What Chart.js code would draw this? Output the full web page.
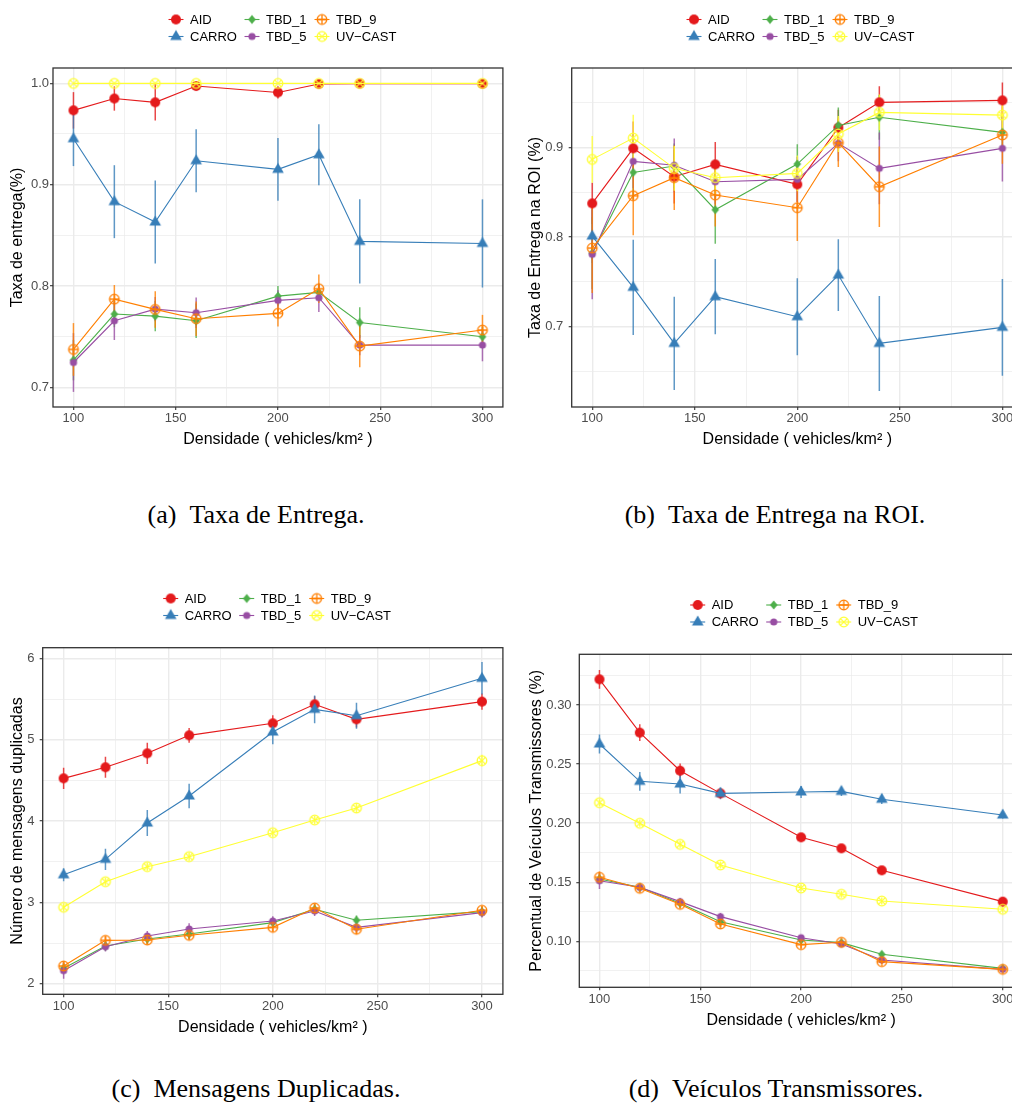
<!DOCTYPE html>
<html>
<head>
<meta charset="utf-8">
<script src="https://cdn.jsdelivr.net/npm/chart.js@4.4.1/dist/chart.umd.min.js"></script>
<style>
  html, body { margin: 0; padding: 0; background: #fff; overflow: hidden; width: 1012px; height: 1106px; }
  canvas { position: absolute; }
  .cap { position: absolute; font-family: "Liberation Serif", "Times New Roman", serif; font-size: 26px; line-height: 30px;
         color: #000; white-space: pre; transform: translateX(-50%); }
</style>
</head>
<body>
<canvas id="chartA" width="510" height="460" style="left:0;top:0"></canvas>
<canvas id="chartB" width="520" height="460" style="left:510px;top:0"></canvas>
<canvas id="chartC" width="510" height="460" style="left:0;top:580px"></canvas>
<canvas id="chartD" width="520" height="460" style="left:510px;top:580px"></canvas>

<div class="cap" style="left:256px;top:500px">(a)&#8194;Taxa de Entrega.</div>
<div class="cap" style="left:775px;top:500px">(b)&#8194;Taxa de Entrega na ROI.</div>
<div class="cap" style="left:256px;top:1074px">(c)&#8194;Mensagens Duplicadas.</div>
<div class="cap" style="left:776px;top:1074px">(d)&#8194;Veículos Transmissores.</div>

<script>
// dados
const densidade = [100, 120, 140, 160, 200, 220, 240, 300];
const xTicks = [100, 150, 200, 250, 300];
const xMinor = [125, 175, 225, 275];

const seriesNames = ['AID', 'CARRO', 'TBD_1', 'TBD_5', 'TBD_9', 'UV\u2212CAST'];
const seriesColors = ['#E41A1C', '#377EB8', '#4DAF4A', '#984EA3', '#FF7F00', '#FFFF33'];

// (a) Taxa de entrega
const entregaAID = [0.9733, 0.985, 0.9812, 0.9973, 0.991, 0.9993, 0.9997, 0.9995];
const entregaAIDErr = [0.018, 0.012, 0.018, 0.003, 0.006, 0.001, 0.0005, 0.001];
const entregaCARRO = [0.9453, 0.8832, 0.8631, 0.9236, 0.9151, 0.9295, 0.844, 0.842];
const entregaCARROErr = [0.027, 0.036, 0.041, 0.031, 0.031, 0.03, 0.0415, 0.0435];
const entregaTBD1 = [0.7269, 0.7723, 0.7703, 0.7657, 0.79, 0.7937, 0.764, 0.7499];
const entregaTBD1Err = [0.02, 0.013, 0.015, 0.017, 0.01, 0.008, 0.015, 0.01];
const entregaTBD5 = [0.7245, 0.7657, 0.7772, 0.7736, 0.7858, 0.7884, 0.7417, 0.7417];
const entregaTBD5Err = [0.029, 0.019, 0.012, 0.015, 0.01, 0.014, 0.01, 0.016];
const entregaTBD9 = [0.7374, 0.787, 0.7769, 0.7677, 0.773, 0.7973, 0.7407, 0.7565];
const entregaTBD9Err = [0.026, 0.014, 0.018, 0.017, 0.013, 0.014, 0.021, 0.015];
const entregaUV = [0.9999, 0.9999, 0.9999, 0.9999, 0.9999, 0.9999, 0.9999, 0.9999];
const entregaUVErr = [0, 0, 0, 0, 0, 0, 0, 0];
const entregaYTicks = [0.7, 0.8, 0.9, 1.0];
const entregaYMinor = [0.75, 0.85, 0.95];

// (b) Taxa de entrega na ROI
const roiAID = [0.8375, 0.8989, 0.8673, 0.881, 0.8587, 0.9219, 0.9502, 0.9524];
const roiAIDErr = [0.023, 0.03, 0.03, 0.025, 0.02, 0.02, 0.018, 0.02];
const roiCARRO = [0.8011, 0.7439, 0.6814, 0.7335, 0.7112, 0.7576, 0.6814, 0.6993];
const roiCARROErr = [0.03, 0.053, 0.052, 0.042, 0.043, 0.04, 0.053, 0.054];
const roiTBD1 = [0.782, 0.8721, 0.8792, 0.8305, 0.8814, 0.9245, 0.9335, 0.9167];
const roiTBD1Err = [0.04, 0.03, 0.025, 0.038, 0.022, 0.02, 0.025, 0.02];
const roiTBD5 = [0.7807, 0.8844, 0.88, 0.8617, 0.8643, 0.9045, 0.8766, 0.8989];
const roiTBD5Err = [0.05, 0.03, 0.03, 0.025, 0.025, 0.02, 0.04, 0.037];
const roiTBD9 = [0.7877, 0.8461, 0.8662, 0.8468, 0.8327, 0.9052, 0.8561, 0.9138];
const roiTBD9Err = [0.05, 0.044, 0.036, 0.035, 0.037, 0.027, 0.045, 0.032];
const roiUV = [0.8866, 0.9104, 0.8766, 0.8662, 0.871, 0.9149, 0.939, 0.936];
const roiUVErr = [0.026, 0.026, 0.025, 0.02, 0.02, 0.02, 0.02, 0.02];
const roiYTicks = [0.7, 0.8, 0.9];
const roiYMinor = [0.65, 0.75, 0.85, 0.95];

// (c) Mensagens duplicadas
const dupAID = [4.527, 4.663, 4.835, 5.056, 5.204, 5.438, 5.253, 5.471];
const dupAIDErr = [0.13, 0.13, 0.13, 0.09, 0.1, 0.1, 0.1, 0.1];
const dupCARRO = [3.34, 3.53, 3.977, 4.31, 5.097, 5.376, 5.298, 5.758];
const dupCARROErr = [0.08, 0.13, 0.16, 0.15, 0.15, 0.17, 0.16, 0.2];
const dupTBD1 = [2.189, 2.464, 2.55, 2.611, 2.751, 2.915, 2.78, 2.886];
const dupTBD1Err = [0.06, 0.06, 0.06, 0.06, 0.06, 0.06, 0.06, 0.06];
const dupTBD5 = [2.16, 2.455, 2.587, 2.673, 2.771, 2.894, 2.693, 2.874];
const dupTBD5Err = [0.1, 0.06, 0.06, 0.07, 0.06, 0.06, 0.06, 0.06];
const dupTBD9 = [2.217, 2.533, 2.537, 2.595, 2.693, 2.931, 2.669, 2.903];
const dupTBD9Err = [0.06, 0.05, 0.05, 0.05, 0.05, 0.05, 0.06, 0.05];
const dupUV = [2.94, 3.255, 3.44, 3.563, 3.858, 4.014, 4.162, 4.745];
const dupUVErr = [0.05, 0.05, 0.05, 0.05, 0.05, 0.05, 0.06, 0.07];
const dupYTicks = [2, 3, 4, 5, 6];
const dupYMinor = [2.5, 3.5, 4.5, 5.5];

// (d) Veiculos transmissores
const transAID = [0.3217, 0.2766, 0.2444, 0.2252, 0.188, 0.1787, 0.1601, 0.1336];
const transAIDErr = [0.008, 0.007, 0.006, 0.004, 0.002, 0.002, 0.002, 0.002];
const transCARRO = [0.267, 0.2354, 0.2331, 0.2252, 0.2264, 0.2269, 0.2202, 0.2069];
const transCARROErr = [0.008, 0.008, 0.008, 0.005, 0.005, 0.004, 0.004, 0.003];
const transTBD1 = [0.1528, 0.1457, 0.1322, 0.1166, 0.1011, 0.0989, 0.089, 0.0771];
const transTBD1Err = [0.004, 0.003, 0.003, 0.003, 0.002, 0.002, 0.002, 0.002];
const transTBD5 = [0.1513, 0.1457, 0.1336, 0.1209, 0.1031, 0.0977, 0.0842, 0.0763];
const transTBD5Err = [0.007, 0.003, 0.003, 0.003, 0.002, 0.002, 0.002, 0.002];
const transTBD9 = [0.1542, 0.1449, 0.1313, 0.1147, 0.0972, 0.0992, 0.0828, 0.0763];
const transTBD9Err = [0.005, 0.003, 0.003, 0.003, 0.003, 0.002, 0.002, 0.002];
const transUV = [0.2173, 0.1999, 0.1821, 0.1646, 0.1451, 0.1398, 0.1341, 0.1271];
const transUVErr = [0.003, 0.003, 0.003, 0.003, 0.003, 0.003, 0.003, 0.003];
const transYTicks = [0.10, 0.15, 0.20, 0.25, 0.30];
const transYMinor = [0.075, 0.125, 0.175, 0.225, 0.275, 0.325];

const FONT = '"Liberation Sans", Arial, sans-serif';
Chart.defaults.font.family = FONT;

// marcadores estilo ggplot
function makeMarker(kind, color) {
  const c = document.createElement('canvas');
  c.width = 16; c.height = 16;
  const g = c.getContext('2d');
  const m = 8;
  g.fillStyle = color;
  g.strokeStyle = color;
  g.lineWidth = 1.3;
  if (kind === 'circle') {
    g.beginPath(); g.arc(m, m, 5, 0, Math.PI * 2); g.fill();
  } else if (kind === 'small') {
    g.beginPath(); g.arc(m, m, 3.6, 0, Math.PI * 2); g.fill();
  } else if (kind === 'triangle') {
    g.beginPath(); g.moveTo(m, m - 6.6); g.lineTo(m + 5.8, m + 3.4); g.lineTo(m - 5.8, m + 3.4); g.closePath(); g.fill();
  } else if (kind === 'diamond') {
    g.beginPath(); g.moveTo(m, m - 4.4); g.lineTo(m + 3.8, m); g.lineTo(m, m + 4.4); g.lineTo(m - 3.8, m); g.closePath(); g.fill();
  } else if (kind === 'plus') {
    g.beginPath(); g.arc(m, m, 4.8, 0, Math.PI * 2); g.stroke();
    g.beginPath(); g.moveTo(m - 4.8, m); g.lineTo(m + 4.8, m); g.moveTo(m, m - 4.8); g.lineTo(m, m + 4.8); g.stroke();
  } else if (kind === 'cross') {
    const d = 4.8 / Math.SQRT2;
    g.beginPath(); g.arc(m, m, 4.8, 0, Math.PI * 2); g.stroke();
    g.beginPath(); g.moveTo(m - d, m - d); g.lineTo(m + d, m + d); g.moveTo(m + d, m - d); g.lineTo(m - d, m + d); g.stroke();
  }
  return c;
}
const markerKinds = ['circle', 'triangle', 'diamond', 'small', 'plus', 'cross'];
const markers = markerKinds.map((k, i) => makeMarker(k, seriesColors[i]));

const errorBars = {
  id: 'errorBars',
  beforeDatasetsDraw(chart) {
    const { ctx, chartArea, scales: { x, y } } = chart;
    ctx.save();
    ctx.beginPath();
    ctx.rect(chartArea.left, chartArea.top, chartArea.right - chartArea.left, chartArea.bottom - chartArea.top);
    ctx.clip();
    ctx.lineWidth = 1.5;
    ctx.globalAlpha = 0.8;
    chart.data.datasets.forEach(ds => {
      ctx.strokeStyle = ds.borderColor;
      ds.data.forEach((p, j) => {
        const e = ds.err[j];
        if (!e) return;
        const px = x.getPixelForValue(p.x);
        ctx.beginPath();
        ctx.moveTo(px, y.getPixelForValue(p.y - e));
        ctx.lineTo(px, y.getPixelForValue(p.y + e));
        ctx.stroke();
      });
    });
    ctx.restore();
  }
};

const panelFrame = {
  id: 'panelFrame',
  afterDraw(chart) {
    const { ctx, chartArea: a } = chart;
    ctx.save();
    ctx.strokeStyle = '#333333';
    ctx.lineWidth = 1.3;
    ctx.strokeRect(a.left, a.top, a.right - a.left, a.bottom - a.top);
    ctx.restore();
  }
};

// legenda em 3 colunas x 2 linhas (preenchida por coluna)
const ggLegend = {
  id: 'ggLegend',
  afterDraw(chart, args, opts) {
    const ctx = chart.ctx;
    const colOffsets = [0, 76, 146];
    ctx.save();
    ctx.font = '13px ' + FONT;
    ctx.textBaseline = 'middle';
    seriesNames.forEach((name, i) => {
      const col = Math.floor(i / 2), row = i % 2;
      const kx = opts.x + colOffsets[col];
      const ky = opts.y + row * 17;
      ctx.strokeStyle = seriesColors[i];
      ctx.lineWidth = 1.1;
      ctx.beginPath(); ctx.moveTo(kx - 7.5, ky); ctx.lineTo(kx + 7.5, ky); ctx.stroke();
      ctx.drawImage(markers[i], kx - 8, ky - 8);
      ctx.fillStyle = '#000';
      ctx.fillText(name, kx + 14, ky + 0.5);
    });
    ctx.restore();
  }
};

function tickSet(major, minor) {
  return major.concat(minor).sort((a, b) => a - b);
}

function buildChart(id, cfg) {
  const datasets = seriesNames.map((name, i) => ({
    label: name,
    data: densidade.map((d, j) => ({ x: d, y: cfg.values[i][j] })),
    err: cfg.errors[i],
    borderColor: seriesColors[i],
    backgroundColor: seriesColors[i],
    borderWidth: 1.1,
    pointStyle: markers[i],
    pointRadius: 6,
    pointHoverRadius: 6,
    tension: 0,
    order: seriesNames.length - i
  }));

  const allX = tickSet(xTicks, xMinor);
  const allY = tickSet(cfg.yTicks, cfg.yMinor);
  const gridWidth = major => (c => (c.tick && major.includes(c.tick.value)) ? 1.4 : 0.7);
  const tickCol = major => (c => (c.tick && major.includes(c.tick.value)) ? '#333333' : 'rgba(0,0,0,0)');

  new Chart(document.getElementById(id), {
    type: 'line',
    data: { datasets },
    plugins: [errorBars, panelFrame, ggLegend],
    options: {
      responsive: false,
      animation: false,
      layout: { padding: { top: cfg.top, right: cfg.right, left: 0, bottom: 0 } },
      plugins: {
        legend: { display: false },
        tooltip: { enabled: false },
        ggLegend: { x: cfg.legX, y: cfg.legY }
      },
      scales: {
        x: {
          type: 'linear', min: 90, max: 310,
          afterBuildTicks: s => { s.ticks = allX.map(v => ({ value: v })); },
          afterFit: s => { s.height = cfg.xh; },
          ticks: {
            autoSkip: false, maxRotation: 0, padding: 1,
            color: '#4D4D4D', font: { size: 13 },
            callback: v => xTicks.includes(v) ? String(v) : ''
          },
          grid: { color: '#EBEBEB', lineWidth: gridWidth(xTicks), tickLength: 3, tickColor: tickCol(xTicks), tickWidth: 1.1 },
          border: { display: false },
          title: {
            display: true, text: 'Densidade ( vehicles/km\u00B2 )', color: '#000',
            font: { size: 16 }, padding: { top: 0, bottom: cfg.xtb }
          }
        },
        y: {
          min: cfg.yMin, max: cfg.yMax,
          afterBuildTicks: s => { s.ticks = allY.map(v => ({ value: v })); },
          afterFit: s => { s.width = cfg.yw; },
          ticks: {
            autoSkip: false, padding: cfg.ytp,
            color: '#4D4D4D', font: { size: 13 },
            callback: v => cfg.yTicks.includes(v) ? v.toFixed(cfg.dec) : ''
          },
          grid: { color: '#EBEBEB', lineWidth: gridWidth(cfg.yTicks), tickLength: 3, tickColor: tickCol(cfg.yTicks), tickWidth: 1.1 },
          border: { display: false },
          title: {
            display: true, text: cfg.yTitle, color: '#000',
            font: { size: 16 }, padding: { top: cfg.ytt, bottom: 0 }
          }
        }
      }
    }
  });
}

buildChart('chartA', {
  values: [entregaAID, entregaCARRO, entregaTBD1, entregaTBD5, entregaTBD9, entregaUV],
  errors: [entregaAIDErr, entregaCARROErr, entregaTBD1Err, entregaTBD5Err, entregaTBD9Err, entregaUVErr],
  yTicks: entregaYTicks, yMinor: entregaYMinor, dec: 1,
  yMin: 0.6806, yMax: 1.0151, yTitle: 'Taxa de entrega(%)',
  top: 68, right: 5, yw: 53, xh: 53, ytt: 8, ytp: 1, xtb: 10.4, legX: 176, legY: 19.5
});

buildChart('chartB', {
  values: [roiAID, roiCARRO, roiTBD1, roiTBD5, roiTBD9, roiUV],
  errors: [roiAIDErr, roiCARROErr, roiTBD1Err, roiTBD5Err, roiTBD9Err, roiUVErr],
  yTicks: roiYTicks, yMinor: roiYMinor, dec: 1,
  yMin: 0.6105, yMax: 0.9885, yTitle: 'Taxa de Entrega na ROI (%)',
  top: 68, right: 6.5, yw: 61.7, xh: 53, ytt: 16.4, ytp: 5.4, xtb: 10.4, legX: 184, legY: 19.5
});

buildChart('chartC', {
  values: [dupAID, dupCARRO, dupTBD1, dupTBD5, dupTBD9, dupUV],
  errors: [dupAIDErr, dupCARROErr, dupTBD1Err, dupTBD5Err, dupTBD9Err, dupUVErr],
  yTicks: dupYTicks, yMinor: dupYMinor, dec: 0,
  yMin: 1.869, yMax: 6.135, yTitle: 'Número de mensagens duplicadas',
  top: 67.7, right: 5, yw: 42.7, xh: 45.7, ytt: 7.9, ytp: 5.3, xtb: 3.1, legX: 170.7, legY: 18.5
});

buildChart('chartD', {
  values: [transAID, transCARRO, transTBD1, transTBD5, transTBD9, transUV],
  errors: [transAIDErr, transCARROErr, transTBD1Err, transTBD5Err, transTBD9Err, transUVErr],
  yTicks: transYTicks, yMinor: transYMinor, dec: 2,
  yMin: 0.0611, yMax: 0.3429, yTitle: 'Percentual de Veículos Transmissores (%)',
  top: 74.3, right: 6.5, yw: 69.3, xh: 52.7, ytt: 17.1, ytp: 4.7, xtb: 9.4, legX: 187.7, legY: 25
});
</script>
</body>
</html>
